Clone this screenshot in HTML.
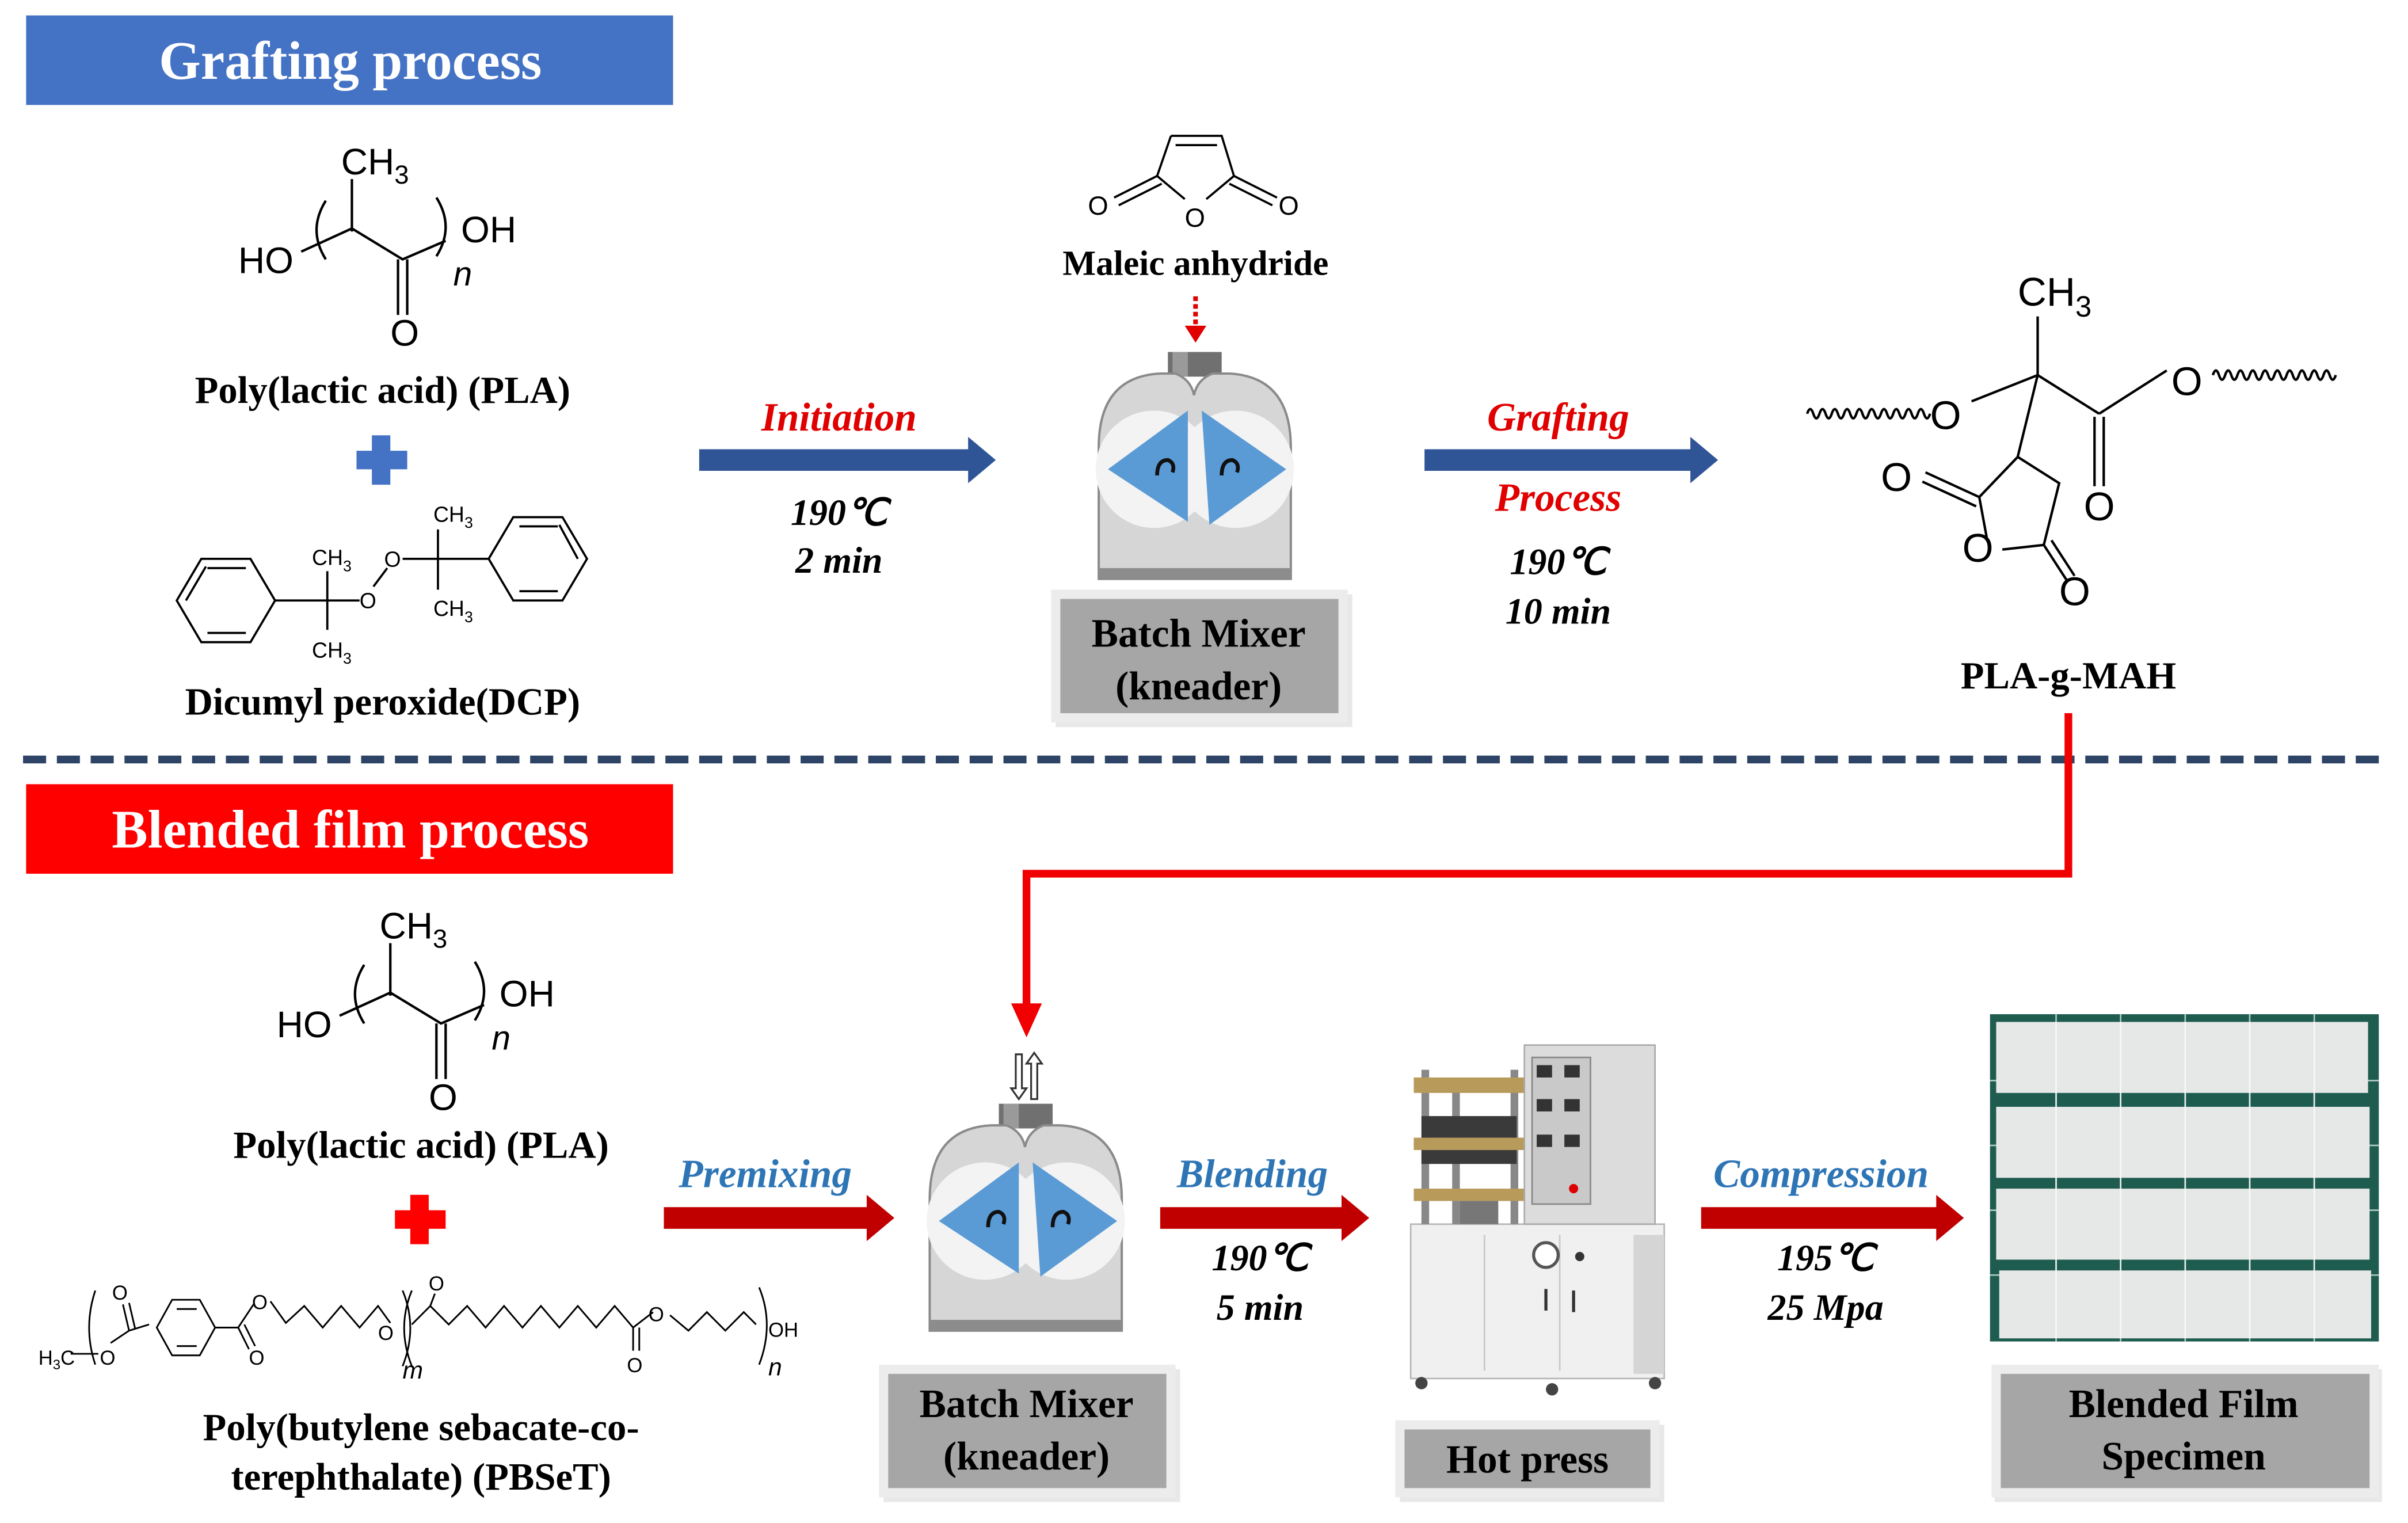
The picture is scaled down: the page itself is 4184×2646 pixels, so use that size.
<!DOCTYPE html>
<html><head><meta charset="utf-8"><style>
html,body{margin:0;padding:0;background:#fff;}
svg{display:block;}
.t{font-family:"Liberation Serif",serif;font-weight:bold;}
.c{font-family:"Liberation Sans",sans-serif;}
</style></head><body>
<svg width="4184" height="2646" viewBox="0 0 1567 986.6" preserveAspectRatio="none" xmlns="http://www.w3.org/2000/svg">
<defs>
<g id="mixer">
  <rect x="45" y="0" width="35" height="16" fill="#707070"/>
  <rect x="48" y="0" width="10" height="16" fill="#9a9a9a"/>
  <path d="M0,147 L0,62 Q0,16 40,14 L50,14 Q60,18 62,28 Q64,18 74,14 L85,14 Q125,16 125,62 L125,147 Z" fill="#d6d6d6" stroke="#8a8a8a" stroke-width="1.5"/>
  <rect x="0" y="140" width="125" height="7" fill="#8c8c8c"/>
  <circle cx="36" cy="76" r="38" fill="#f3f3f3"/>
  <circle cx="89" cy="76" r="38" fill="#f3f3f3"/>
  <polygon points="6,76 58,38 58,110" fill="#5B9BD5"/>
  <polygon points="67,38 122,76 72,112" fill="#5B9BD5"/>
  <path d="M38,80 Q38,70 45,70 Q50,72 48,78" fill="none" stroke="#111" stroke-width="2.5"/>
  <path d="M80,80 Q80,70 87,70 Q92,72 90,78" fill="none" stroke="#111" stroke-width="2.5"/>
</g>
<g id="pla" class="c" fill="#000">
  <text x="222" y="113" font-size="24">CH<tspan font-size="17" dy="6">3</tspan></text>
  <line x1="229" y1="116" x2="229" y2="150" stroke="#000" stroke-width="1.6"/>
  <path d="M196,163 L229,148 L262,168 L290,156" fill="none" stroke="#000" stroke-width="1.6"/>
  <line x1="259" y1="168" x2="259" y2="204" stroke="#000" stroke-width="1.6"/>
  <line x1="265" y1="168" x2="265" y2="204" stroke="#000" stroke-width="1.6"/>
  <path d="M212,130 Q200,149 212,168" fill="none" stroke="#000" stroke-width="1.6"/>
  <path d="M284,128 Q296,147 284,166" fill="none" stroke="#000" stroke-width="1.6"/>
  <text x="155" y="177" font-size="24">HO</text>
  <text x="300" y="157" font-size="24">OH</text>
  <text x="295" y="185" font-size="22" font-style="italic">n</text>
  <text x="254" y="224" font-size="24">O</text>
</g>
</defs>

<rect x="17" y="10" width="421" height="58" fill="#4472C4"/>
<text class="t" x="228" y="51" font-size="35" fill="#fff" text-anchor="middle">Grafting process</text>
<rect x="17" y="508" width="421" height="58" fill="#FF0000"/>
<text class="t" x="228" y="549" font-size="35" fill="#fff" text-anchor="middle">Blended film process</text>

<line x1="15" y1="492" x2="1548" y2="492" stroke="#2E4467" stroke-width="5" stroke-dasharray="15,7"/>

<use href="#pla"/>
<text class="t" x="249" y="261" font-size="25" text-anchor="middle">Poly(lactic acid) (PLA)</text>
<rect x="232" y="292" width="33" height="12" fill="#4472C4"/>
<rect x="242" y="282" width="12" height="32" fill="#4472C4"/>

<g stroke="#000" stroke-width="1.4" fill="none">
  <polygon points="115,389 131,362 163,362 179,389 163,416 131,416"/>
  <line x1="135" y1="368" x2="160" y2="368"/><line x1="135" y1="410" x2="160" y2="410"/><line x1="121" y1="389" x2="134" y2="367"/>
  <line x1="179" y1="389" x2="213" y2="389"/>
  <line x1="213" y1="370" x2="213" y2="408"/>
  <line x1="213" y1="389" x2="234" y2="389"/>
  <line x1="243" y1="380" x2="252" y2="368"/>
  <line x1="262" y1="362" x2="285" y2="362"/>
  <line x1="285" y1="343" x2="285" y2="382"/>
  <line x1="285" y1="362" x2="318" y2="362"/>
  <polygon points="318,362 334,335 366,335 382,362 366,389 334,389"/>
  <line x1="338" y1="341" x2="363" y2="341"/><line x1="338" y1="383" x2="363" y2="383"/><line x1="376" y1="362" x2="364" y2="340"/>
</g>
<g class="c" font-size="14" fill="#000">
  <text x="203" y="366">CH<tspan font-size="10" dy="4">3</tspan></text>
  <text x="203" y="426">CH<tspan font-size="10" dy="4">3</tspan></text>
  <text x="234" y="394">O</text>
  <text x="250" y="367">O</text>
  <text x="282" y="338">CH<tspan font-size="10" dy="4">3</tspan></text>
  <text x="282" y="399">CH<tspan font-size="10" dy="4">3</tspan></text>
</g>
<text class="t" x="249" y="463" font-size="25" text-anchor="middle">Dicumyl peroxide(DCP)</text>

<polygon points="455,291 630,291 630,283 648,298 630,313 630,305 455,305" fill="#2F5597"/>
<text class="t" x="546" y="279" font-size="26" fill="#E00000" font-style="italic" text-anchor="middle">Initiation</text>
<text class="t" x="546" y="340" font-size="24" font-style="italic" text-anchor="middle">190℃</text>
<text class="t" x="546" y="371" font-size="24" font-style="italic" text-anchor="middle">2 min</text>

<g stroke="#000" stroke-width="1.4" fill="none">
  <path d="M762,88 L795,88 L803,114 L785,129 M771,129 L753,114 L762,88"/>
  <line x1="765" y1="94" x2="792" y2="94"/>
  <line x1="753" y1="114" x2="725" y2="128"/><line x1="756" y1="119" x2="728" y2="133"/>
  <line x1="803" y1="114" x2="831" y2="128"/><line x1="800" y1="119" x2="828" y2="133"/>
</g>
<g class="c" font-size="17"><text x="708" y="139">O</text><text x="771" y="147">O</text><text x="832" y="139">O</text></g>
<text class="t" x="778" y="178" font-size="23" text-anchor="middle">Maleic anhydride</text>
<line x1="778" y1="192" x2="778" y2="212" stroke="#E00000" stroke-width="3" stroke-dasharray="3,2"/>
<polygon points="771,211 785,211 778,222" fill="#E00000"/>

<use href="#mixer" x="715" y="228"/>
<rect x="687" y="385" width="193" height="86" fill="#d8d8d8" opacity="0.6"/>
<rect x="684" y="382" width="193" height="86" fill="#ececec"/>
<rect x="690" y="388" width="181" height="74" fill="#A6A6A6"/>
<text class="t" x="780" y="419" font-size="26" text-anchor="middle">Batch Mixer</text>
<text class="t" x="780" y="453" font-size="26" text-anchor="middle">(kneader)</text>

<polygon points="927,291 1100,291 1100,283 1118,298 1100,313 1100,305 927,305" fill="#2F5597"/>
<text class="t" x="1014" y="279" font-size="26" fill="#E00000" font-style="italic" text-anchor="middle">Grafting</text>
<text class="t" x="1014" y="331" font-size="26" fill="#E00000" font-style="italic" text-anchor="middle">Process</text>
<text class="t" x="1014" y="372" font-size="24" font-style="italic" text-anchor="middle">190℃</text>
<text class="t" x="1014" y="404" font-size="24" font-style="italic" text-anchor="middle">10 min</text>

<g stroke="#000" stroke-width="1.6" fill="none">
  <path d="M1176,268 q2,-6 4,0 q2,6 4,0 q2,-6 4,0 q2,6 4,0 q2,-6 4,0 q2,6 4,0 q2,-6 4,0 q2,6 4,0 q2,-6 4,0 q2,6 4,0 q2,-6 4,0 q2,6 4,0 q2,-6 4,0 q2,6 4,0 q2,-6 4,0 q2,6 4,0 q2,-6 4,0 q2,6 4,0 q2,-6 4,0 q2,6 4,0"/>
  <path d="M1440,243 q2,-6 4,0 q2,6 4,0 q2,-6 4,0 q2,6 4,0 q2,-6 4,0 q2,6 4,0 q2,-6 4,0 q2,6 4,0 q2,-6 4,0 q2,6 4,0 q2,-6 4,0 q2,6 4,0 q2,-6 4,0 q2,6 4,0 q2,-6 4,0 q2,6 4,0 q2,-6 4,0 q2,6 4,0 q2,-6 4,0 q2,6 4,0"/>
  <line x1="1283" y1="260" x2="1326" y2="243"/>
  <line x1="1326" y1="205" x2="1326" y2="243"/>
  <line x1="1326" y1="243" x2="1366" y2="268"/>
  <line x1="1366" y1="268" x2="1410" y2="240"/>
  <line x1="1363" y1="270" x2="1363" y2="315"/><line x1="1369" y1="270" x2="1369" y2="315"/>
  <line x1="1326" y1="243" x2="1313" y2="296"/>
  <path d="M1313,296 L1288,322 L1293,349 M1303,356 L1330,353 L1340,313 L1313,296"/>
  <line x1="1288" y1="322" x2="1253" y2="306"/><line x1="1286" y1="328" x2="1251" y2="312"/>
  <line x1="1330" y1="353" x2="1345" y2="376"/><line x1="1335" y1="350" x2="1350" y2="373"/>
</g>
<g class="c" font-size="26">
  <text x="1313" y="198">CH<tspan font-size="19" dy="7">3</tspan></text>
  <text x="1256" y="278">O</text>
  <text x="1413" y="256">O</text>
  <text x="1356" y="337">O</text>
  <text x="1224" y="318">O</text>
  <text x="1277" y="364">O</text>
  <text x="1340" y="392">O</text>
</g>
<text class="t" x="1346" y="446" font-size="25" text-anchor="middle">PLA-g-MAH</text>

<path d="M1346,462 L1346,566 L668,566 L668,655" fill="none" stroke="#F00000" stroke-width="5"/>
<polygon points="658,650 678,650 668,672" fill="#F00000"/>
<g stroke="#333" stroke-width="1.2" fill="#fff">
  <polygon points="661,683 665,683 665,705 668,705 663,712 658,705 661,705"/>
  <polygon points="671,712 675,712 675,689 678,689 673,682 668,689 671,689"/>
</g>

<use href="#pla" x="25" y="495"/>
<text class="t" x="274" y="750" font-size="25" text-anchor="middle">Poly(lactic acid) (PLA)</text>
<rect x="257" y="784" width="33" height="12" fill="#FF0000"/>
<rect x="267" y="774" width="12" height="32" fill="#FF0000"/>

<g stroke="#000" stroke-width="1.1" fill="none">
  <path d="M62,836 Q54,860 62,884"/>
  <line x1="46" y1="877" x2="64" y2="877"/>
  <path d="M72,870 L84,862 L97,858"/>
  <line x1="84" y1="862" x2="80" y2="845"/><line x1="88" y1="861" x2="84" y2="844"/>
  <polygon points="102,860 112,842 130,842 140,860 130,878 112,878"/>
  <line x1="115" y1="848" x2="128" y2="848"/><line x1="115" y1="872" x2="128" y2="872"/>
  <path d="M140,860 L155,860 L165,845"/>
  <line x1="155" y1="860" x2="162" y2="874"/><line x1="159" y1="858" x2="166" y2="872"/>
  <path d="M176,843 L186,857 L198,846 L210,860 L222,846 L234,860 L246,846 L254,857"/>
  <path d="M262,836 Q272,860 262,885"/>
  <path d="M268,836 Q258,860 268,885"/>
  <path d="M268,858 L280,846 L292,858 L304,846 L316,860 L328,846 L340,860 L352,846 L364,860 L376,846 L388,860 L400,846 L412,860 L425,850"/>
  <line x1="283" y1="838" x2="280" y2="846"/>
  <line x1="412" y1="860" x2="412" y2="875"/><line x1="416" y1="860" x2="416" y2="875"/>
  <path d="M436,852 L448,862 L460,850 L472,862 L484,850 L492,858"/>
  <path d="M494,834 Q504,858 494,884"/>
</g>
<g class="c" font-size="13">
  <text x="25" y="884">H<tspan font-size="9" dy="3">3</tspan><tspan dy="-3">C</tspan></text>
  <text x="65" y="884">O</text>
  <text x="73" y="842">O</text>
  <text x="162" y="884">O</text>
  <text x="164" y="848">O</text>
  <text x="246" y="868">O</text>
  <text x="279" y="836">O</text>
  <text x="408" y="889">O</text>
  <text x="422" y="856">O</text>
  <text x="500" y="866">OH</text>
  <text x="262" y="893" font-style="italic" font-size="16">m</text>
  <text x="500" y="891" font-style="italic" font-size="16">n</text>
</g>
<text class="t" x="274" y="933" font-size="25" text-anchor="middle">Poly(butylene sebacate-co-</text>
<text class="t" x="274" y="965" font-size="25" text-anchor="middle">terephthalate) (PBSeT)</text>

<polygon points="432,782 564,782 564,774 582,789 564,804 564,796 432,796" fill="#C00000"/>
<text class="t" x="498" y="769" font-size="26" fill="#2E75B6" font-style="italic" text-anchor="middle">Premixing</text>

<use href="#mixer" x="605" y="715"/>
<rect x="575" y="887" width="193" height="86" fill="#d8d8d8" opacity="0.6"/>
<rect x="572" y="884" width="193" height="86" fill="#ececec"/>
<rect x="578" y="890" width="181" height="74" fill="#A6A6A6"/>
<text class="t" x="668" y="918" font-size="26" text-anchor="middle">Batch Mixer</text>
<text class="t" x="668" y="952" font-size="26" text-anchor="middle">(kneader)</text>

<polygon points="755,782 873,782 873,774 891,789 873,804 873,796 755,796" fill="#C00000"/>
<text class="t" x="815" y="769" font-size="26" fill="#2E75B6" font-style="italic" text-anchor="middle">Blending</text>
<text class="t" x="820" y="823" font-size="24" font-style="italic" text-anchor="middle">190℃</text>
<text class="t" x="820" y="855" font-size="24" font-style="italic" text-anchor="middle">5 min</text>

<g>
  <rect x="918" y="793" width="165" height="100" fill="#f0f0f0" stroke="#b5b5b5"/>
  <rect x="1063" y="800" width="20" height="90" fill="#d5d5d5"/>
  <line x1="966" y1="800" x2="966" y2="888" stroke="#c8c8c8"/>
  <line x1="1015" y1="800" x2="1015" y2="888" stroke="#c8c8c8"/>
  <rect x="1005" y="835" width="2" height="14" fill="#333"/><rect x="1023" y="836" width="2" height="14" fill="#333"/>
  <circle cx="925" cy="896" r="4" fill="#444"/><circle cx="1077" cy="896" r="4" fill="#444"/><circle cx="1010" cy="900" r="4" fill="#444"/>
  <rect x="925" y="693" width="5" height="100" fill="#888"/><rect x="945" y="698" width="5" height="95" fill="#888"/><rect x="983" y="693" width="5" height="100" fill="#888"/>
  <rect x="920" y="698" width="72" height="10" fill="#b89a5a"/>
  <rect x="920" y="737" width="72" height="8" fill="#b89a5a"/>
  <rect x="925" y="745" width="62" height="9" fill="#3a3a3a"/>
  <rect x="920" y="770" width="72" height="8" fill="#b89a5a"/>
  <rect x="925" y="723" width="62" height="14" fill="#3a3a3a"/>
  <rect x="950" y="778" width="25" height="15" fill="#777"/>
  <rect x="992" y="677" width="85" height="116" fill="#dcdcdc" stroke="#aaa"/>
  <rect x="997" y="685" width="38" height="95" fill="#c9c9c9" stroke="#888"/>
  <rect x="1000" y="690" width="10" height="8" fill="#333"/><rect x="1018" y="690" width="10" height="8" fill="#333"/>
  <rect x="1000" y="712" width="10" height="8" fill="#333"/><rect x="1018" y="712" width="10" height="8" fill="#333"/>
  <rect x="1000" y="735" width="10" height="8" fill="#333"/><rect x="1018" y="735" width="10" height="8" fill="#333"/>
  <circle cx="1024" cy="770" r="3" fill="#d00"/>
  <circle cx="1006" cy="813" r="8" fill="#fff" stroke="#555" stroke-width="2"/>
  <circle cx="1028" cy="814" r="3" fill="#333"/>
</g>
<rect x="911" y="923" width="172" height="50" fill="#d8d8d8" opacity="0.6"/>
<rect x="908" y="920" width="172" height="50" fill="#ececec"/>
<rect x="914" y="926" width="160" height="38" fill="#A6A6A6"/>
<text class="t" x="994" y="954" font-size="26" text-anchor="middle">Hot press</text>

<polygon points="1107,782 1260,782 1260,774 1278,789 1260,804 1260,796 1107,796" fill="#C00000"/>
<text class="t" x="1185" y="769" font-size="26" fill="#2E75B6" font-style="italic" text-anchor="middle">Compression</text>
<text class="t" x="1188" y="823" font-size="24" font-style="italic" text-anchor="middle">195℃</text>
<text class="t" x="1188" y="855" font-size="24" font-style="italic" text-anchor="middle">25 Mpa</text>

<rect x="1295" y="657" width="253" height="212" fill="#1E5C50"/>
<g stroke="#cfe3dc" stroke-width="1" opacity="0.8">
  <line x1="1338" y1="657" x2="1338" y2="869"/><line x1="1380" y1="657" x2="1380" y2="869"/>
  <line x1="1422" y1="657" x2="1422" y2="869"/><line x1="1464" y1="657" x2="1464" y2="869"/>
  <line x1="1506" y1="657" x2="1506" y2="869"/>
  <line x1="1295" y1="700" x2="1548" y2="700"/><line x1="1295" y1="742" x2="1548" y2="742"/>
  <line x1="1295" y1="784" x2="1548" y2="784"/><line x1="1295" y1="826" x2="1548" y2="826"/>
</g>
<g fill="#e6e8e7">
  <rect x="1299" y="662" width="242" height="46"/>
  <rect x="1299" y="717" width="243" height="46"/>
  <rect x="1299" y="770" width="243" height="46"/>
  <rect x="1301" y="823" width="242" height="44"/>
</g>
<g stroke="#fff" stroke-width="1" opacity="0.7">
  <line x1="1338" y1="662" x2="1338" y2="867"/><line x1="1380" y1="662" x2="1380" y2="867"/>
  <line x1="1422" y1="662" x2="1422" y2="867"/><line x1="1464" y1="662" x2="1464" y2="867"/>
  <line x1="1506" y1="662" x2="1506" y2="867"/>
</g>
<rect x="1298" y="887" width="252" height="86" fill="#d8d8d8" opacity="0.6"/>
<rect x="1296" y="884" width="252" height="86" fill="#ececec"/>
<rect x="1302" y="890" width="240" height="74" fill="#A6A6A6"/>
<text class="t" x="1421" y="918" font-size="26" text-anchor="middle">Blended Film</text>
<text class="t" x="1421" y="952" font-size="26" text-anchor="middle">Specimen</text>
</svg>
</body></html>
